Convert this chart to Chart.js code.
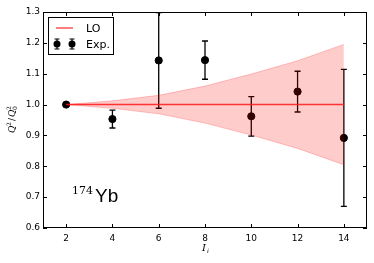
<!DOCTYPE html>
<html>
<head>
<meta charset="utf-8">
<script src="https://cdn.jsdelivr.net/npm/chart.js@4/dist/chart.umd.min.js"></script>
<style>
html,body{margin:0;padding:0;background:#fff;}
#wrap{width:374px;height:263px;}
</style>
</head>
<body>
<div id="wrap"><canvas id="c" width="374" height="263"></canvas></div>
<script>
const xTicks = [2, 4, 6, 8, 10, 12, 14];
const yTicks = [0.6, 0.7, 0.8, 0.9, 1.0, 1.1, 1.2, 1.3];
const spins = [2, 4, 6, 8, 10, 12, 14];
const expValues = [1.000, 0.953, 1.143, 1.144, 0.962, 1.042, 0.892];
const expErrors = [0.006, 0.029, 0.155, 0.062, 0.064, 0.066, 0.222];
const loValues = [1.0, 1.0, 1.0, 1.0, 1.0, 1.0, 1.0];
const bandUpper = [1.000, 1.012, 1.030, 1.060, 1.099, 1.142, 1.195];
const bandLower = [1.000, 0.988, 0.970, 0.940, 0.901, 0.858, 0.805];
const legendLabels = ['LO', 'Exp.'];
const nucleusMass = '174';
const nucleusName = 'Yb';

const pts = (xs, ys) => xs.map((x, i) => ({x: x, y: ys[i]}));

const customPlugin = {
  id: 'custom',
  beforeDatasetDraw(chart, args) {
    if (args.index !== 3) return;
    const ctx = chart.ctx, xs = chart.scales.x, ys = chart.scales.y;
    const ca = chart.chartArea;
    ctx.save();
    ctx.beginPath();
    ctx.rect(ca.left, ca.top, ca.right - ca.left, ca.bottom - ca.top);
    ctx.clip();
    ctx.strokeStyle = '#000';
    ctx.lineWidth = 1.3;
    spins.forEach((s, i) => {
      const px = xs.getPixelForValue(s);
      const top = ys.getPixelForValue(expValues[i] + expErrors[i]);
      const bot = ys.getPixelForValue(expValues[i] - expErrors[i]);
      ctx.beginPath();
      ctx.moveTo(px, top); ctx.lineTo(px, bot);
      ctx.moveTo(px - 3, top); ctx.lineTo(px + 3, top);
      ctx.moveTo(px - 3, bot); ctx.lineTo(px + 3, bot);
      ctx.stroke();
    });
    ctx.restore();
  },
  afterDraw(chart) {
    const ctx = chart.ctx, xs = chart.scales.x, ys = chart.scales.y;
    const ca = chart.chartArea;
    ctx.save();
    ctx.strokeStyle = '#000';
    ctx.lineWidth = 1;
    ctx.strokeRect(Math.round(ca.left) + 0.5, Math.round(ca.top) + 0.5,
      Math.round(ca.right - ca.left) - 1, Math.round(ca.bottom - ca.top) - 1);
    ctx.beginPath();
    xTicks.forEach(t => {
      const px = Math.round(xs.getPixelForValue(t)) + 0.5;
      ctx.moveTo(px, ca.bottom); ctx.lineTo(px, ca.bottom - 4);
      ctx.moveTo(px, ca.top); ctx.lineTo(px, ca.top + 4);
    });
    yTicks.forEach(t => {
      const py = Math.round(ys.getPixelForValue(t)) + 0.5;
      ctx.moveTo(ca.left, py); ctx.lineTo(ca.left + 4, py);
      ctx.moveTo(ca.right, py); ctx.lineTo(ca.right - 4, py);
    });
    ctx.stroke();

    // legend
    const lx = 48, ly = 17, lw = 65, lh = 37;
    ctx.fillStyle = '#fff';
    ctx.fillRect(lx, ly, lw, lh);
    ctx.strokeStyle = '#000';
    ctx.strokeRect(lx + 0.5, ly + 0.5, lw, lh);
    ctx.strokeStyle = 'rgba(255,40,40,0.75)';
    ctx.lineWidth = 1.6;
    ctx.beginPath(); ctx.moveTo(56, 28); ctx.lineTo(73, 28); ctx.stroke();
    [57, 72].forEach(mx => {
      ctx.strokeStyle = '#000'; ctx.lineWidth = 1.2;
      ctx.beginPath();
      ctx.moveTo(mx, 39); ctx.lineTo(mx, 49);
      ctx.moveTo(mx - 2.5, 39); ctx.lineTo(mx + 2.5, 39);
      ctx.moveTo(mx - 2.5, 49); ctx.lineTo(mx + 2.5, 49);
      ctx.stroke();
      ctx.fillStyle = '#000';
      ctx.beginPath(); ctx.arc(mx, 44, 3.5, 0, Math.PI * 2); ctx.fill();
    });
    ctx.fillStyle = '#000';
    ctx.font = '11px "DejaVu Sans"';
    ctx.textBaseline = 'alphabetic';
    ctx.textAlign = 'left';
    ctx.fillText(legendLabels[0], 86, 32);
    ctx.fillText(legendLabels[1], 86, 48);

    // nucleus label
    ctx.font = '11px "DejaVu Serif"';
    ctx.fillText(nucleusMass, 72, 194);
    ctx.font = '19px "Liberation Sans"';
    ctx.fillText(nucleusName, 95, 202);

    // x axis title
    ctx.font = 'italic 10px "DejaVu Serif"';
    ctx.fillText('I', 202, 251);
    ctx.font = 'italic 6px "DejaVu Serif"';
    ctx.fillText('i', 207, 253);

    // y axis title
    ctx.translate(15, 118);
    ctx.rotate(-Math.PI / 2);
    let x = -15;
    ctx.font = 'italic 9px "DejaVu Serif"';
    ctx.fillText('Q', x, 0); x += 7;
    ctx.font = '6px "DejaVu Serif"';
    ctx.fillText('2', x, -4); x += 5;
    ctx.font = '9px "DejaVu Serif"';
    ctx.fillText('/', x, 0); x += 4;
    ctx.font = 'italic 9px "DejaVu Serif"';
    ctx.fillText('Q', x, 0); x += 7;
    ctx.font = '6px "DejaVu Serif"';
    ctx.fillText('2', x, -4);
    ctx.fillText('0', x, 2);
    ctx.restore();
  }
};

new Chart(document.getElementById('c'), {
  type: 'scatter',
  data: {
    datasets: [
      {
        data: pts(spins, bandUpper),
        showLine: true,
        borderColor: 'rgba(255,0,0,0.22)',
        borderWidth: 1,
        backgroundColor: 'rgba(255,0,0,0.2)',
        pointRadius: 0,
        fill: 1,
        tension: 0
      },
      {
        data: pts(spins, bandLower),
        showLine: true,
        borderColor: 'rgba(255,0,0,0.22)',
        borderWidth: 1,
        pointRadius: 0,
        fill: false,
        tension: 0
      },
      {
        data: pts(spins, loValues),
        showLine: true,
        borderColor: 'rgba(255,30,30,0.85)',
        borderWidth: 1.6,
        pointRadius: 0,
        fill: false
      },
      {
        data: pts(spins, expValues),
        showLine: false,
        pointRadius: 3.6,
        pointBackgroundColor: '#000',
        pointBorderColor: '#000',
        pointBorderWidth: 1
      }
    ]
  },
  options: {
    responsive: false,
    animation: false,
    events: [],
    layout: {padding: {top: 12, right: 7, left: 0, bottom: 0}},
    plugins: {legend: {display: false}, tooltip: {enabled: false}},
    scales: {
      x: {
        type: 'linear', min: 1, max: 15,
        afterBuildTicks: s => { s.ticks = xTicks.map(v => ({value: v})); },
        afterFit: s => { s.height = 35; },
        grid: {display: false, drawTicks: false},
        border: {display: false},
        ticks: {font: {family: 'DejaVu Sans', size: 9}, color: '#000', padding: 5, maxRotation: 0}
      },
      y: {
        type: 'linear', min: 0.6, max: 1.3,
        afterBuildTicks: s => { s.ticks = yTicks.map(v => ({value: v})); },
        afterFit: s => { s.width = 43; },
        grid: {display: false, drawTicks: false},
        border: {display: false},
        ticks: {font: {family: 'DejaVu Sans', size: 9}, color: '#000', padding: 3,
          callback: v => v.toFixed(1)}
      }
    }
  },
  plugins: [customPlugin]
});
</script>
</body>
</html>
